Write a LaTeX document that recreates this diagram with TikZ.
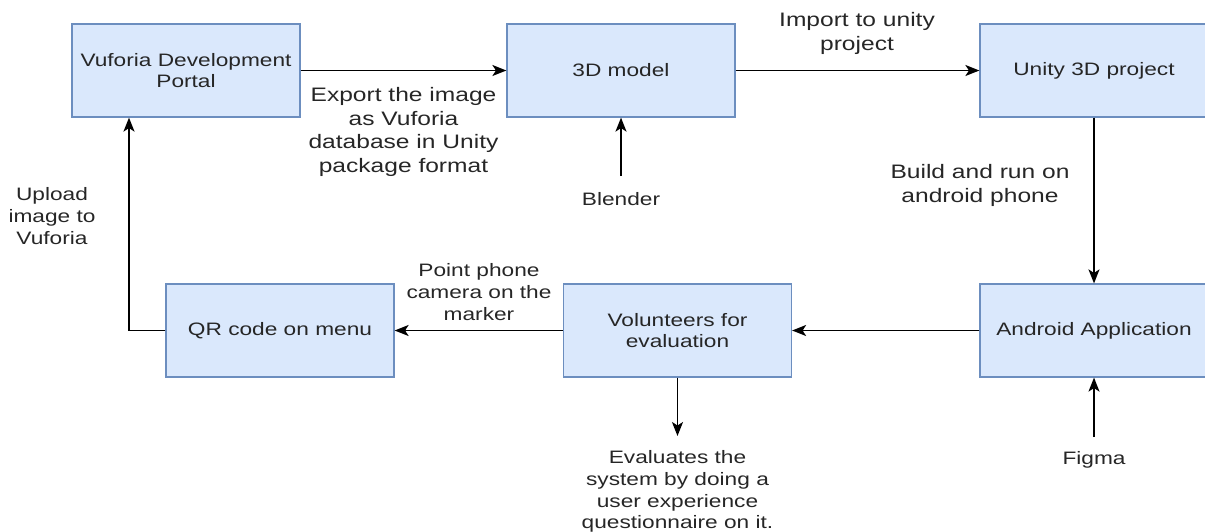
\documentclass[tikz,border=0pt]{standalone}
\usepackage{fontspec}
\setmainfont{Liberation Sans}[FakeStretch=1.26]
\usetikzlibrary{arrows.meta}
\definecolor{boxfill}{HTML}{DAE8FC}
\definecolor{boxline}{HTML}{6C8EBF}
\definecolor{txt}{HTML}{262626}
\begin{document}
\begin{tikzpicture}[x=1pt,y=-1pt,
  text=txt,
  box/.style={draw=boxline, fill=boxfill, line width=1.2pt, minimum width=228pt, minimum height=93pt, align=center, inner sep=0pt, font=\fontsize{18}{21.5}\selectfont},
  lbl/.style={align=center, inner sep=0pt, font=\fontsize{19.5}{23.6}\selectfont},
  lblsmall/.style={align=center, inner sep=0pt, font=\fontsize{18}{21.8}\selectfont},
  arr/.style={line width=1.6pt, -{Stealth[length=14pt,width=11pt,inset=3.5pt]}}]
\useasboundingbox (0,0) rectangle (1205,531);
% boxes
\node[box] (vuf) at (186,70.5) {Vuforia Development\\Portal};
\node[box] (m3d) at (621,70.5) {3D model};
\node[box] (unity) at (1094,70.5) {Unity 3D project};
\node[box] (qr) at (280,330.5) {QR code on menu};
\node[box] (vol) at (677.5,330.5) {Volunteers for\\evaluation};
\node[box] (android) at (1094,330.5) {Android Application};
% labels
\node[lbl] (lexport) at (403.5,132) {Export the image\\as Vuforia\\database in Unity\\package format};
\node[lbl] (limport) at (857,33.5) {Import to unity\\project};
\node[lbl] (lbuild) at (980,185.5) {Build and run on\\android phone};
\node[lblsmall] (lpoint) at (479,292) {Point phone\\camera on the\\marker};
\node[lblsmall] (lupload) at (52,216) {Upload\\image to\\Vuforia};
\node[lblsmall] (leval) at (677.5,491.5) {Evaluates the\\system by doing a\\user experience\\questionnaire on it.};
\node[lblsmall] (figma) at (1094,460) {Figma};
\node[lblsmall] (blender) at (621,199) {Blender};
% connector points
\coordinate (bend) at (129,330.5);
\coordinate (blenderTop) at (621,176);
\coordinate (figmaTop) at (1094,437);
\coordinate (evalTop) at (677.5,436);
% connectors
\draw[arr] (vuf.east) -- (m3d.west);
\draw[arr] (m3d.east) -- (unity.west);
\draw[arr] (unity.south) -- (android.north);
\draw[arr] (android.west) -- (vol.east);
\draw[arr] (vol.west) -- (qr.east);
\draw[arr] (qr.west) -- (bend) -- (bend |- vuf.south);
\draw[arr] (blenderTop) -- (m3d.south);
\draw[arr] (figmaTop) -- (android.south);
\draw[arr] (vol.south) -- (evalTop);
\end{tikzpicture}
\end{document}
